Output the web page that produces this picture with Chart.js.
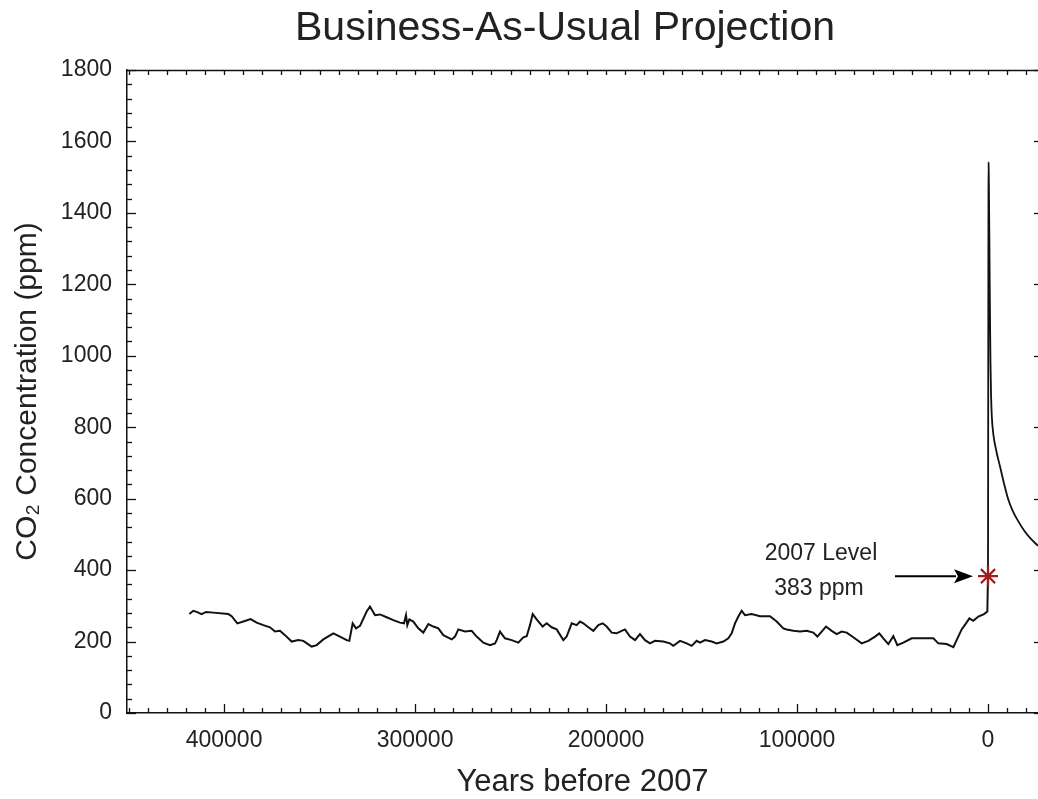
<!DOCTYPE html>
<html>
<head>
<meta charset="utf-8">
<script src="https://cdn.jsdelivr.net/npm/chart.js@4.4.0/dist/chart.umd.min.js"></script>
<style>
html,body{margin:0;padding:0;background:#fff;}
#wrap{width:1038px;height:799px;}
</style>
</head>
<body>
<div id="wrap"><canvas id="c" width="1038" height="799"></canvas></div>
<script>
// ---- Data ----
const chartTitle = "Business-As-Usual Projection";
const xTitle = "Years before 2007";
const yTitle = "CO\u2082 Concentration (ppm)";

// Ice-core record (years before 2007)
const histYears = [418180,416090,414340,411720,409450,405620,397760,396020,393050,389910,386070,382930,379440,375950,373330,370710,368090,364600,361110,358490,354130,351510,348020,342790,339300,335800,334410,332660,330920,328820,325330,323590,320970,318350,
314860,311370,307880,305780,304740,304040,302990,300900,298280,295660,293040,290430,287810,285190,280820,279080,277330,273840,270350,267730,264240,260750,258130,257260,255520,252900,249410,245920,243300,241550,239810,238410,236320,233180,231080,228460,225850,222360,220610,217990,215370,
213630,211880,209270,206650,204030,201760,199670,197050,194430,191810,190070,187450,184830,182210,179590,176980,174360,170000,166500,164760,161270,157780,155160,152540,150800,148180,144690,142070,138580,135960,134220,132470,130730,128980,127240,123740,119380,114140,110650,
107160,105420,101930,98440,94950,91460,89360,87090,84820,81860,79240,76620,74000,70510,66150,62660,59170,56900,54800,52190,49570,47470,44330,39970,33860,28620,26010,21640,18150,16410,13790,11520,9770,7680,5060,2090,350,0];
const histCO2 = [277,286,283,277,283,281,277,271,251,256,263,253,246,240,228,230,218,200,204,202,186,190,206,223,214,204,202,251,237,244,284,298,274,276,
268,260,253,251,274,246,262,256,237,225,249,242,237,218,206,214,234,228,230,214,197,190,195,204,228,209,204,197,212,215,246,277,262,242,251,240,234,204,214,251,246,
256,251,240,230,246,251,242,225,223,230,234,214,204,221,204,195,202,200,195,188,202,195,188,202,197,204,200,195,200,209,223,251,270,286,274,277,271,271,256,
237,234,230,228,230,225,214,228,242,230,221,228,225,212,195,202,214,223,209,193,215,190,197,209,209,209,195,193,184,204,234,251,265,258,270,277,284,383];

// Business-as-usual projection (negative = years after 2007)
const projYears = [0,-50,-100,-150,-200,-250,-300,-400,-500,-700,-900,-1100,-1300,-1600,-2000,-2800,-4500,-6300,-8500,-10500,-13000,-15500,-19000,-22000,-26180];
const projCO2  = [383,560,800,1050,1280,1450,1542,1510,1460,1340,1200,1080,980,890,830,780,730,690,640,600,565,540,510,490,468];

// 2007 marker
const markYears = [0];
const markCO2 = [383];
const markLabel = ["2007 Level", "383 ppm"];

// Axis ticks
const xTickValues = [400000,300000,200000,100000,0];
const yTickValues = [0,200,400,600,800,1000,1200,1400,1600,1800];

// ---- Chart ----
const FONT = "'Liberation Sans', Arial, Helvetica, sans-serif";
const TXT = '#222';

const histPoints = histYears.map((x,i)=>({x:x, y:histCO2[i]}));
const projPoints = projYears.map((x,i)=>({x:x, y:projCO2[i]}));
const markPoints = markYears.map((x,i)=>({x:x, y:markCO2[i]}));

const framePlugin = {
  id: 'frame',
  afterDraw(chart) {
    const ctx = chart.ctx;
    const xs = chart.scales.x, ys = chart.scales.y;
    const a = chart.chartArea;
    ctx.save();
    // title
    ctx.fillStyle = TXT;
    ctx.font = "41px " + FONT;
    ctx.textAlign = 'center';
    ctx.textBaseline = 'middle';
    ctx.fillText(chartTitle, 565, 29);

    ctx.strokeStyle = '#111';
    ctx.lineWidth = 1.3;
    // top border
    ctx.beginPath(); ctx.moveTo(a.left, a.top + 0.5); ctx.lineTo(a.right, a.top + 0.5); ctx.stroke();
    // x ticks (inward) bottom & top
    const xStep = 10000;
    for (let v = Math.ceil(xs.min / xStep) * xStep; v <= xs.max; v += xStep) {
      const px = Math.round(xs.getPixelForValue(v)) + 0.5;
      const major = (v % 100000 === 0);
      const lb = major ? 9 : 5;
      ctx.beginPath(); ctx.moveTo(px, a.bottom); ctx.lineTo(px, a.bottom - lb); ctx.stroke();
      ctx.beginPath(); ctx.moveTo(px, a.top); ctx.lineTo(px, a.top + 5); ctx.stroke();
    }
    // y ticks (inward) left
    const yStep = 40;
    for (let v = ys.min; v <= ys.max; v += yStep) {
      const py = Math.round(ys.getPixelForValue(v)) + 0.5;
      const major = (v % 200 === 0);
      const lb = major ? 9 : 5;
      ctx.beginPath(); ctx.moveTo(a.left, py); ctx.lineTo(a.left + lb, py); ctx.stroke();
    }
    // right ticks
    for (let v = ys.min; v <= ys.max; v += 200) {
      const py = Math.round(ys.getPixelForValue(v)) + 0.5;
      ctx.beginPath(); ctx.moveTo(a.right, py); ctx.lineTo(a.right - 4, py); ctx.stroke();
    }
    // annotation: arrow + label pointing at the 2007 marker
    const sx = xs.getPixelForValue(markYears[0]);
    const sy = ys.getPixelForValue(markCO2[0]);
    ctx.strokeStyle = '#000';
    ctx.fillStyle = '#000';
    ctx.lineWidth = 2;
    const tip = sx - 15, base = sx - 34, tail = sx - 93;
    ctx.beginPath(); ctx.moveTo(tail, sy); ctx.lineTo(base + 2, sy); ctx.stroke();
    ctx.beginPath(); ctx.moveTo(tip, sy); ctx.lineTo(base, sy - 7); ctx.lineTo(base + 4, sy); ctx.lineTo(base, sy + 7); ctx.closePath(); ctx.fill();
    ctx.fillStyle = TXT;
    ctx.font = "23px " + FONT;
    ctx.fillText(markLabel[0], sx - 167, sy - 23);
    ctx.fillText(markLabel[1], sx - 169, sy + 12);
    ctx.restore();
  }
};

new Chart(document.getElementById('c'), {
  type: 'line',
  data: {
    datasets: [
      {
        label: '2007',
        data: markPoints,
        showLine: false,
        pointStyle: 'star',
        pointRadius: 10,
        borderColor: '#a11d1d',
        backgroundColor: '#a11d1d',
        borderWidth: 2.3,
        clip: 12
      },
      {
        label: 'Ice core CO2',
        data: histPoints,
        borderColor: '#111',
        borderWidth: 2,
        pointRadius: 0,
        tension: 0,
        fill: false
      },
      {
        label: 'Projection',
        data: projPoints,
        borderColor: '#111',
        borderWidth: 1.8,
        pointRadius: 0,
        cubicInterpolationMode: 'monotone',
        fill: false
      }
    ]
  },
  options: {
    responsive: false,
    animation: false,
    devicePixelRatio: 1,
    layout: { autoPadding: false, padding: { left: 0, right: 0, top: 70, bottom: 0 } },
    plugins: {
      legend: { display: false },
      tooltip: { enabled: false },
      title: { display: false }
    },
    scales: {
      x: {
        type: 'linear',
        reverse: true,
        min: -26180,
        max: 450820,
        afterBuildTicks: s => { s.ticks = xTickValues.map(v => ({ value: v })); },
        afterFit: s => { s.height = 86; s.paddingLeft = 0; s.paddingRight = 0; },
        grid: { display: true, drawOnChartArea: false, drawTicks: false, color: '#111' },
        border: { display: true, color: '#111', width: 1.5 },
        ticks: { color: TXT, font: { family: FONT, size: 23 }, padding: 14, maxRotation: 0, autoSkip: false, callback: v => String(v) },
        title: { display: true, text: xTitle, color: TXT, font: { family: FONT, size: 31 }, padding: { top: 0, bottom: -2 } }
      },
      y: {
        type: 'linear',
        min: 0,
        max: 1800,
        afterBuildTicks: s => { s.ticks = yTickValues.map(v => ({ value: v })); },
        afterFit: s => { s.width = 127; s.paddingTop = 0; s.paddingBottom = 0; },
        grid: { display: true, drawOnChartArea: false, drawTicks: false, color: '#111' },
        border: { display: true, color: '#111', width: 1.5 },
        ticks: { color: TXT, font: { family: FONT, size: 23 }, padding: 15, autoSkip: false, callback: v => String(v) },
        title: { display: true, text: yTitle, color: TXT, font: { family: FONT, size: 30 }, padding: { top: 10, bottom: 0 } }
      }
    }
  },
  plugins: [framePlugin]
});
</script>
</body>
</html>
